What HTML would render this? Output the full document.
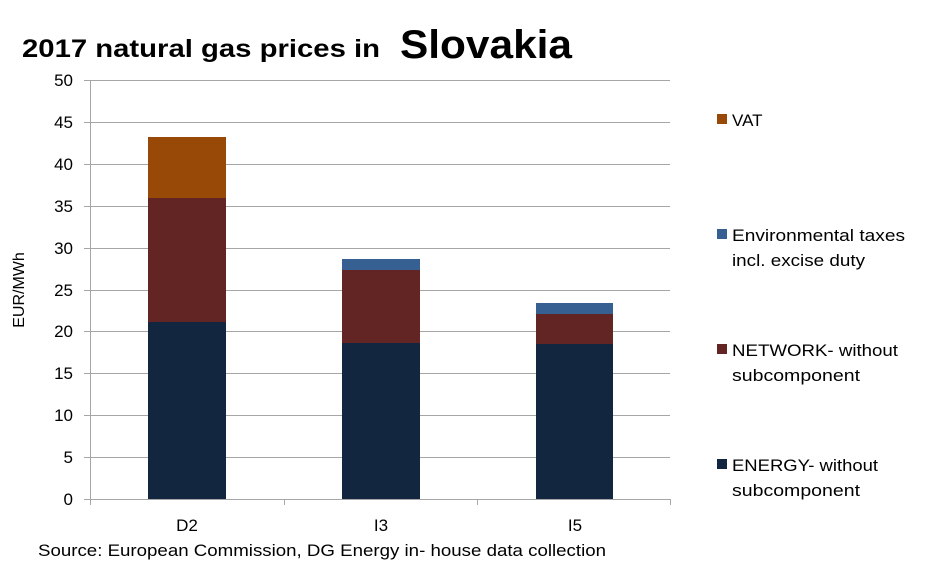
<!DOCTYPE html>
<html><head><meta charset="utf-8"><style>
body{margin:0;background:#fff;}
svg text{font-family:"Liberation Sans",sans-serif;fill:#000;}
</style></head><body>
<svg width="936" height="565" viewBox="0 0 936 565">
<rect width="936" height="565" fill="#fff"/>
<text x="22" y="57" font-size="25" font-weight="bold" textLength="358" lengthAdjust="spacingAndGlyphs">2017 natural gas  prices in</text>
<text x="400" y="58" font-size="40" font-weight="bold" textLength="172" lengthAdjust="spacingAndGlyphs">Slovakia</text>
<g stroke="#a6a6a6" stroke-width="1">
<line x1="90" y1="80.5" x2="670" y2="80.5"/>
<line x1="90" y1="122.5" x2="670" y2="122.5"/>
<line x1="90" y1="164.5" x2="670" y2="164.5"/>
<line x1="90" y1="206.5" x2="670" y2="206.5"/>
<line x1="90" y1="248.5" x2="670" y2="248.5"/>
<line x1="90" y1="290.5" x2="670" y2="290.5"/>
<line x1="90" y1="331.5" x2="670" y2="331.5"/>
<line x1="90" y1="373.5" x2="670" y2="373.5"/>
<line x1="90" y1="415.5" x2="670" y2="415.5"/>
<line x1="90" y1="457.5" x2="670" y2="457.5"/>
<line x1="84" y1="499.5" x2="670" y2="499.5"/>
<line x1="90.5" y1="80" x2="90.5" y2="499"/>
<g>
<line x1="84" y1="80.5" x2="90" y2="80.5"/><line x1="84" y1="122.5" x2="90" y2="122.5"/><line x1="84" y1="164.5" x2="90" y2="164.5"/><line x1="84" y1="206.5" x2="90" y2="206.5"/><line x1="84" y1="248.5" x2="90" y2="248.5"/><line x1="84" y1="290.5" x2="90" y2="290.5"/><line x1="84" y1="331.5" x2="90" y2="331.5"/><line x1="84" y1="373.5" x2="90" y2="373.5"/><line x1="84" y1="415.5" x2="90" y2="415.5"/><line x1="84" y1="457.5" x2="90" y2="457.5"/>
</g>
<line x1="90.5" y1="499" x2="90.5" y2="505"/>
<line x1="284.5" y1="499" x2="284.5" y2="505"/>
<line x1="477.5" y1="499" x2="477.5" y2="505"/>
<line x1="670.5" y1="499" x2="670.5" y2="505"/>
</g>
<g font-size="17" text-anchor="end">
<text x="73" y="86">50</text><text x="73" y="128">45</text><text x="73" y="170">40</text><text x="73" y="212">35</text><text x="73" y="254">30</text><text x="73" y="296">25</text><text x="73" y="337">20</text><text x="73" y="379">15</text><text x="73" y="421">10</text><text x="73" y="463">5</text><text x="73" y="505">0</text>
</g>
<text transform="translate(24,290) rotate(-90)" font-size="16" text-anchor="middle">EUR/MWh</text>
<rect x="148" y="322" width="78" height="177" fill="#12263f"/>
<rect x="148" y="198" width="78" height="124" fill="#632523"/>
<rect x="148" y="137" width="78" height="61" fill="#984807"/>
<rect x="342" y="343" width="78" height="156" fill="#12263f"/>
<rect x="342" y="270" width="78" height="73" fill="#632523"/>
<rect x="342" y="259" width="78" height="11" fill="#366092"/>
<rect x="536" y="344" width="77" height="155" fill="#12263f"/>
<rect x="536" y="314" width="77" height="30" fill="#632523"/>
<rect x="536" y="303" width="77" height="11" fill="#366092"/>
<g font-size="17" text-anchor="middle">
<text x="187" y="531">D2</text><text x="381" y="531">I3</text><text x="575" y="531">I5</text>
</g>
<text x="38" y="556" font-size="17" textLength="568" lengthAdjust="spacingAndGlyphs">Source: European Commission, DG Energy in- house data collection</text>
<g font-size="17">
<rect x="717" y="114" width="10" height="10" fill="#984807"/><text x="732" y="126">VAT</text>
<rect x="717" y="229" width="10" height="10" fill="#366092"/><text x="732" y="241" textLength="173" lengthAdjust="spacingAndGlyphs">Environmental taxes</text><text x="732" y="266" textLength="133" lengthAdjust="spacingAndGlyphs">incl. excise duty</text>
<rect x="717" y="344" width="10" height="10" fill="#632523"/><text x="732" y="356" textLength="166" lengthAdjust="spacingAndGlyphs">NETWORK- without</text><text x="732" y="381" textLength="128" lengthAdjust="spacingAndGlyphs">subcomponent</text>
<rect x="717" y="459" width="10" height="10" fill="#12263f"/><text x="732" y="471" textLength="146" lengthAdjust="spacingAndGlyphs">ENERGY- without</text><text x="732" y="496" textLength="128" lengthAdjust="spacingAndGlyphs">subcomponent</text>
</g>
</svg>
</body></html>
